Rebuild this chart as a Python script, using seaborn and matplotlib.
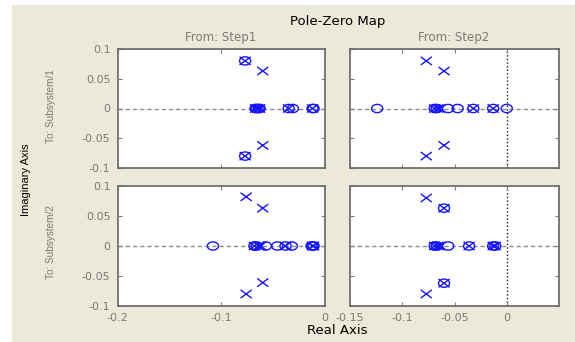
import numpy as np
import pandas as pd
import matplotlib
matplotlib.use("Agg")
import matplotlib.pyplot as plt
from matplotlib.path import Path
from matplotlib.patches import Rectangle
import seaborn as sns

# ---------------- data ----------------
inputs = ["From: Step1", "From: Step2"]
outputs = ["To: Subsystem/1", "To: Subsystem/2"]

# Step1 -> Subsystem/1
s1o1_pole_re = [-0.077, -0.077, -0.060, -0.060, -0.067, -0.065, -0.063, -0.035, -0.012]
s1o1_pole_im = [0.080, -0.080, 0.063, -0.062, 0.0, 0.0, 0.0, 0.0, 0.0]
s1o1_zero_re = [-0.077, -0.077, -0.067, -0.066, -0.064, -0.063, -0.035, -0.031, -0.012, -0.011]
s1o1_zero_im = [0.080, -0.080, 0.0, 0.0, 0.0, 0.0, 0.0, 0.0, 0.0, 0.0]

# Step2 -> Subsystem/1
s2o1_pole_re = [-0.077, -0.077, -0.060, -0.060, -0.069, -0.066, -0.064, -0.032, -0.013]
s2o1_pole_im = [0.080, -0.080, 0.063, -0.062, 0.0, 0.0, 0.0, 0.0, 0.0]
s2o1_zero_re = [-0.124, -0.069, -0.067, -0.056, -0.047, -0.032, -0.013, 0.0]
s2o1_zero_im = [0.0, 0.0, 0.0, 0.0, 0.0, 0.0, 0.0, 0.0]

# Step1 -> Subsystem/2
s1o2_pole_re = [-0.076, -0.076, -0.060, -0.060, -0.068, -0.064, -0.062, -0.038, -0.012, -0.011]
s1o2_pole_im = [0.082, -0.080, 0.063, -0.061, 0.0, 0.0, 0.0, 0.0, 0.0, 0.0]
s1o2_zero_re = [-0.108, -0.068, -0.066, -0.057, -0.046, -0.038, -0.032, -0.013, -0.012, -0.011]
s1o2_zero_im = [0.0, 0.0, 0.0, 0.0, 0.0, 0.0, 0.0, 0.0, 0.0, 0.0]

# Step2 -> Subsystem/2
s2o2_pole_re = [-0.077, -0.077, -0.060, -0.060, -0.069, -0.066, -0.064, -0.036, -0.013, -0.011]
s2o2_pole_im = [0.080, -0.080, 0.063, -0.062, 0.0, 0.0, 0.0, 0.0, 0.0, 0.0]
s2o2_zero_re = [-0.060, -0.060, -0.069, -0.067, -0.056, -0.036, -0.013, -0.011]
s2o2_zero_im = [0.063, -0.062, 0.0, 0.0, 0.0, 0.0, 0.0, 0.0]

left_xticks = [-0.2, -0.1, 0]
left_xticklabels = ["-0.2", "-0.1", "0"]
right_xticks = [-0.15, -0.1, -0.05, 0]
right_xticklabels = ["-0.15", "-0.1", "-0.05", "0"]
yticks = [-0.1, -0.05, 0, 0.05, 0.1]
yticklabels = ["-0.1", "-0.05", "0", "0.05", "0.1"]

panel_data = {
    (0, 0): (s1o1_pole_re, s1o1_pole_im, s1o1_zero_re, s1o1_zero_im),
    (0, 1): (s2o1_pole_re, s2o1_pole_im, s2o1_zero_re, s2o1_zero_im),
    (1, 0): (s1o2_pole_re, s1o2_pole_im, s1o2_zero_re, s1o2_zero_im),
    (1, 1): (s2o2_pole_re, s2o2_pole_im, s2o2_zero_re, s2o2_zero_im),
}

rows = []
for (r, c), (pr, pi, zr, zi) in panel_data.items():
    for a, b in zip(pr, pi):
        rows.append(dict(row=r, col=c, kind="pole", re=a, im=b))
    for a, b in zip(zr, zi):
        rows.append(dict(row=r, col=c, kind="zero", re=a, im=b))
df = pd.DataFrame(rows)

# ---------------- style ----------------
W, H = 575, 342
BEIGE = "#ECE9D8"
GRAY = "#7f7f7f"
BLUE = "#1414ff"
HFONT = ["DejaVu Sans"]
VFONT = ["Liberation Sans", "DejaVu Sans"]

# stretched markers (the reference is horizontally stretched)
sx = 1.35
th = np.linspace(0, 2 * np.pi, 49)
ell_marker = Path(np.column_stack([sx * np.cos(th), np.sin(th)]))
x_marker = Path([(-sx, -1), (sx, 1), (-sx, 1), (sx, -1)],
                [Path.MOVETO, Path.LINETO, Path.MOVETO, Path.LINETO])

fig = plt.figure(figsize=(W / 100, H / 100), dpi=100, facecolor="white")
fig.patches.append(Rectangle((12 / W, 0), 1 - 12 / W, 1 - 5 / H,
                             transform=fig.transFigure, facecolor=BEIGE,
                             edgecolor="none", zorder=-10))


def box(x0, y0, x1, y1):
    return [x0 / W, 1 - y1 / H, (x1 - x0) / W, (y1 - y0) / H]


col_x = [(117.5, 325), (350, 559)]
row_y = [(49, 168), (186, 306)]

for r in range(2):
    for c in range(2):
        ax = fig.add_axes(box(col_x[c][0], row_y[r][0], col_x[c][1], row_y[r][1]))
        ax.set_facecolor("white")
        sub = df[(df.row == r) & (df.col == c)]
        ax.axhline(0, color="#8a8a8a", lw=1, ls=(0, (3, 2.2)), zorder=1)
        if c == 1:
            ax.axvline(0, color="#202020", lw=1, ls=(0, (1, 1.6)), zorder=1)
        sns.scatterplot(data=sub[sub.kind == "zero"], x="re", y="im", ax=ax,
                        marker=ell_marker, s=64, color=BLUE, facecolors="none",
                        edgecolor=BLUE, linewidth=1.0, legend=False, zorder=3)
        sns.scatterplot(data=sub[sub.kind == "pole"], x="re", y="im", ax=ax,
                        marker=x_marker, s=64, color=BLUE, facecolors="none",
                        edgecolor=BLUE, linewidth=1.0, legend=False, zorder=3)
        ax.set_xlabel("")
        ax.set_ylabel("")
        if c == 0:
            ax.set_xlim(-0.2, 0)
            ax.set_xticks(left_xticks)
            ax.set_xticklabels(left_xticklabels)
        else:
            ax.set_xlim(-0.15, 0.05)
            ax.set_xticks(right_xticks)
            ax.set_xticklabels(right_xticklabels)
        ax.set_ylim(-0.1, 0.1)
        ax.set_yticks(yticks)
        ax.set_yticklabels(yticklabels)
        ax.tick_params(direction="in", length=3, width=0.8, color=GRAY,
                       labelcolor="#7a7a7a", top=True, right=True,
                       labelsize=8)
        ax.tick_params(axis="y", pad=5)
        ax.tick_params(axis="x", pad=5)
        for lab in ax.get_xticklabels() + ax.get_yticklabels():
            lab.set_family(HFONT)
        if r == 0:
            ax.tick_params(labelbottom=False)
        if c == 1:
            ax.tick_params(labelleft=False)
        for sp in ax.spines.values():
            sp.set_color("#6f6f6f")
            sp.set_linewidth(1.3)
        ax.grid(False)

# ---------------- texts ----------------
def ftext(x, y, s, **kw):
    fig.text(x / W, 1 - y / H, s, ha="center", va="center", **kw)

ftext(338, 21, "Pole-Zero Map", fontsize=9.5, color="black", family=HFONT)
ftext(221, 37, inputs[0], fontsize=8.5, color="#7a7a7a", family=HFONT)
ftext(454, 37, inputs[1], fontsize=8.5, color="#7a7a7a", family=HFONT)
ftext(337, 331, "Real Axis", fontsize=9.5, color="black", family=HFONT)
ftext(26, 180, "Imaginary Axis", fontsize=8, color="black", rotation=90, family=VFONT)
ftext(51, 106, outputs[0], fontsize=7.2, color="#7a7a7a", rotation=90, family=VFONT)
ftext(51, 242, outputs[1], fontsize=7.2, color="#7a7a7a", rotation=90, family=VFONT)

fig.savefig("out.png", dpi=100, facecolor=fig.get_facecolor())
